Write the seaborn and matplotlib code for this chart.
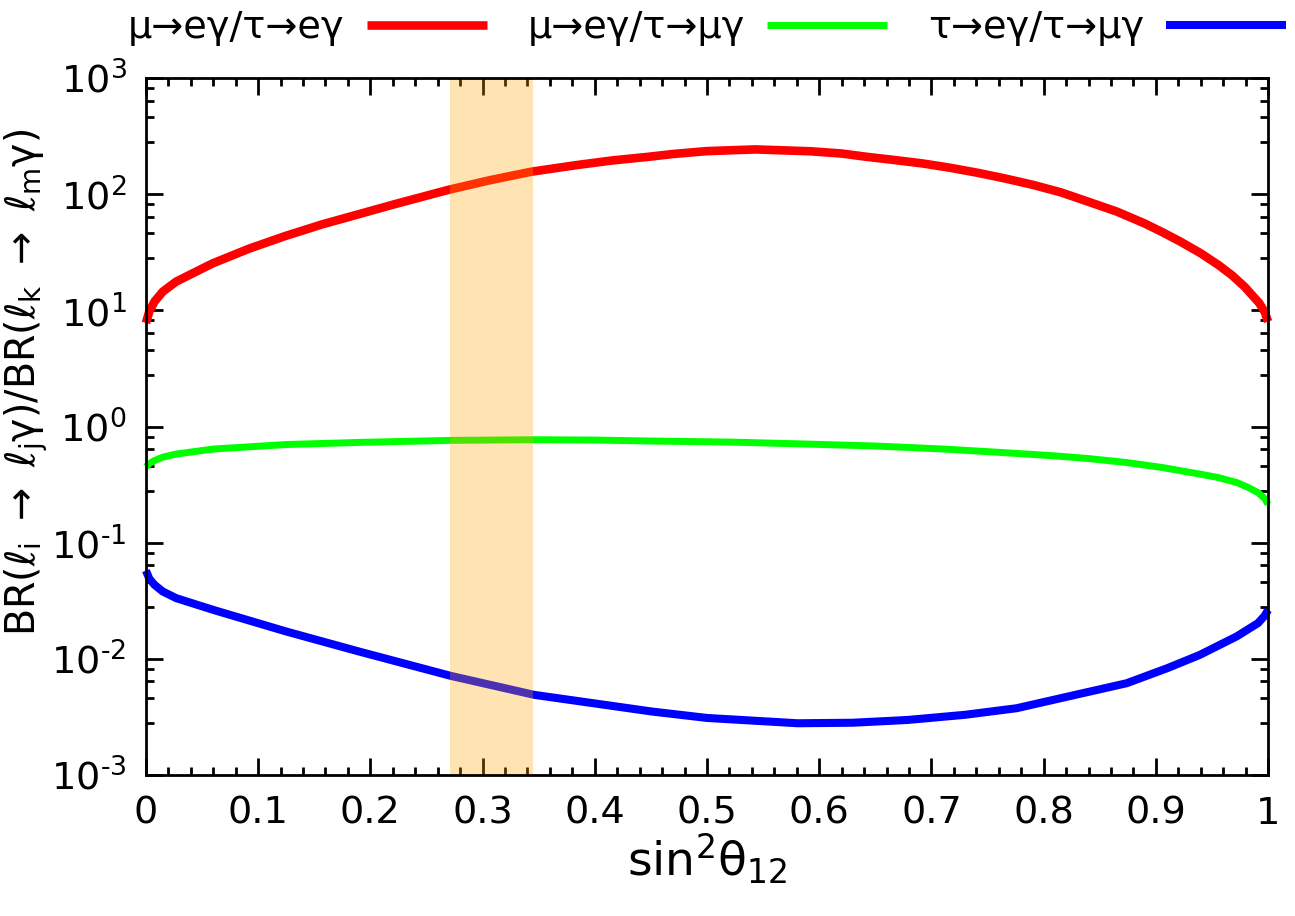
import numpy as np
import pandas as pd
import matplotlib
matplotlib.use("Agg")
import matplotlib.pyplot as plt
import seaborn as sns
from matplotlib.ticker import FixedLocator

# ---------------- data ----------------
red_x = [0.0, 0.003, 0.0076, 0.015, 0.027, 0.0595, 0.092, 0.124, 0.157, 0.189, 0.2215,
         0.2695, 0.305, 0.343, 0.3836, 0.415, 0.448, 0.47, 0.5, 0.543, 0.593, 0.62, 0.642,
         0.665, 0.692, 0.715, 0.741, 0.765, 0.791, 0.815, 0.840, 0.865, 0.890, 0.906,
         0.922, 0.94, 0.956, 0.968, 0.979, 0.992, 0.997, 1.0]
red_y = [7.8, 9.8, 11.9, 14.5, 17.7, 25.4, 34, 43.6, 55, 67, 82,
         109, 131, 156, 178, 195, 210, 222, 235, 243, 234, 224, 210,
         198, 184, 170, 153, 137, 120, 104, 86, 71, 56, 47,
         39, 31, 24.5, 20, 16, 11.6, 9.7, 8.0]

green_x = [0.0, 0.003, 0.0077, 0.015, 0.027, 0.06, 0.125, 0.19, 0.2716, 0.346, 0.4, 0.451,
           0.52, 0.581, 0.65, 0.711, 0.76, 0.809, 0.84, 0.874, 0.905, 0.939, 0.955, 0.972,
           0.982, 0.991, 0.997, 1.0]
green_y = [0.45, 0.48, 0.51, 0.545, 0.58, 0.64, 0.70, 0.73, 0.76, 0.77, 0.765, 0.75,
           0.735, 0.71, 0.68, 0.64, 0.60, 0.56, 0.53, 0.49, 0.445, 0.39, 0.365, 0.33,
           0.30, 0.27, 0.24, 0.214]

blue_x = [0.0, 0.003, 0.0077, 0.015, 0.027, 0.06, 0.125, 0.19, 0.2716, 0.346, 0.451, 0.5,
          0.581, 0.63, 0.679, 0.73, 0.776, 0.82, 0.874, 0.91, 0.939, 0.972, 0.991, 0.997, 1.0]
blue_y = [0.0575, 0.049, 0.0433, 0.038, 0.0333, 0.0264, 0.0172, 0.01156, 0.00714, 0.0049,
          0.00352, 0.0031, 0.00279, 0.00282, 0.00298, 0.0033, 0.00376, 0.0047, 0.00617,
          0.0083, 0.0108, 0.0156, 0.0203, 0.0235, 0.0264]

series_names = ["μ→eγ/τ→eγ", "μ→eγ/τ→μγ", "τ→eγ/τ→μγ"]
series_colors = ["#ff0000", "#00ff00", "#0000ff"]
series_widths = [6.2, 5.0, 5.8]

band_range = [0.271, 0.345]

x_ticks = [0, 0.1, 0.2, 0.3, 0.4, 0.5, 0.6, 0.7, 0.8, 0.9, 1.0]
x_tick_labels = ["0", "0.1", "0.2", "0.3", "0.4", "0.5", "0.6", "0.7", "0.8", "0.9", "1"]
y_exponents = [-3, -2, -1, 0, 1, 2, 3]
y_minor_mantissas = [2.8, 4.6, 6.4, 8.2]

# ---------------- style ----------------
sns.set_style("ticks")
plt.rcParams["font.family"] = ["DejaVu Sans"]
plt.rcParams["mathtext.fontset"] = "dejavusans"
for key in ["text.color", "axes.labelcolor", "xtick.color", "ytick.color", "axes.edgecolor"]:
    plt.rcParams[key] = "black"

W, H = 1295, 916
fig = plt.figure(figsize=(W / 100, H / 100), dpi=100)
ax = fig.add_axes([0.1127, 0.1539, 0.8665, 0.7609])

frames = []
for name, xs, ys in zip(series_names, [red_x, green_x, blue_x], [red_y, green_y, blue_y]):
    frames.append(pd.DataFrame({"x": xs, "y": ys, "series": name}))
df = pd.concat(frames, ignore_index=True)

for name, color, lw in zip(series_names, series_colors, series_widths):
    sub = df[df["series"] == name]
    sns.lineplot(data=sub, x="x", y="y", ax=ax, color=color, lw=lw,
                 label=name, sort=False, estimator=None,
                 solid_capstyle="butt", solid_joinstyle="round",
                 clip_on=False, zorder=3)

ax.set_yscale("log")
ax.set_xlim(0, 1)
ax.set_ylim(1e-3, 1e3)

ax.axvspan(band_range[0], band_range[1], color="orange", alpha=0.3, lw=0, zorder=5)

ax.xaxis.set_major_locator(FixedLocator(x_ticks))
ax.set_xticklabels(x_tick_labels)
ax.xaxis.set_minor_locator(FixedLocator(np.arange(0, 1.0001, 0.02)))

y_major = [10.0 ** e for e in y_exponents]
ax.yaxis.set_major_locator(FixedLocator(y_major))
ax.set_yticklabels([r"$\mathregular{10^{%s}}$" % (str(e).replace("-", "\u2010")) for e in y_exponents])
y_minor = [m * 10.0 ** e for e in y_exponents[:-1] for m in y_minor_mantissas]
ax.yaxis.set_minor_locator(FixedLocator(y_minor))

ax.tick_params(which="both", direction="in", top=True, right=True, width=2, color="black")
ax.tick_params(which="major", length=12, labelsize=27.5, labelcolor="black")
ax.tick_params(axis="x", which="major", pad=15)
ax.tick_params(axis="y", which="major", pad=14)
ax.tick_params(which="minor", length=6)
for sp in ax.spines.values():
    sp.set_linewidth(2)
    sp.set_color("black")
    sp.set_zorder(6)

ax.set_xlabel(r"$\mathregular{sin^{2}θ_{12}}$", fontsize=34, labelpad=0)

ylab = ax.set_ylabel(
    r"$\mathregular{BR(}\ell_{\mathregular{i}}\ \rightarrow\ \ell_{\mathregular{j}}\mathregular{γ)/BR(}"
    r"\ell_{\mathregular{k}}\ \rightarrow\ \ell_{\mathregular{m}}\mathregular{γ)}$",
    fontsize=28.5)

# place the y label where the reference has it (centre ~382 px from top, right edge ~44 px)
fig.canvas.draw()
bb = ylab.get_window_extent()
ax_bb = ax.get_window_extent()
target_cy = H - 382.0
target_right = 44.0
dx = (target_right - bb.x1) / ax_bb.width
dy = (target_cy - 0.5 * (bb.y0 + bb.y1)) / ax_bb.height
lx, ly = -0.093 + dx, 0.5 + dy
ax.yaxis.set_label_coords(lx, ly)
fig.canvas.draw()
bb2 = ylab.get_window_extent()
if bb2.x0 < 3:
    ax.yaxis.set_label_coords(lx + (3 - bb2.x0) / ax_bb.width, ly)

handles, labels = ax.get_legend_handles_labels()
ax.get_legend().remove()
fig.legend(handles, labels, loc="center", bbox_to_anchor=(0.546, 0.969), ncol=3,
           frameon=False, markerfirst=False, fontsize=27.5, handlelength=3.14,
           handletextpad=0.58, columnspacing=1.07)

fig.savefig("out.png", dpi=100)
